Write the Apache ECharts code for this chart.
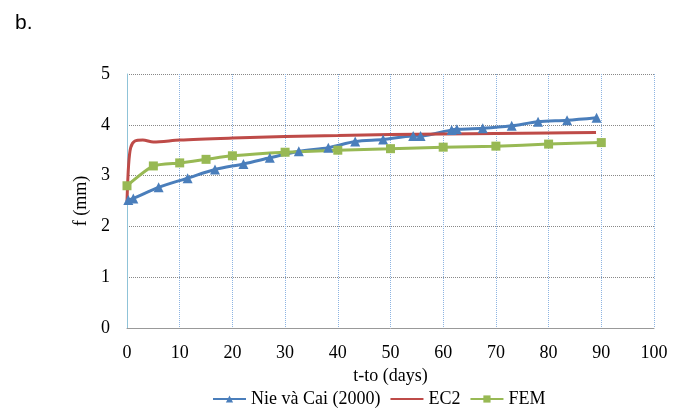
<!DOCTYPE html>
<html>
<head>
<meta charset="utf-8">
<script src="https://cdn.jsdelivr.net/npm/echarts@6/dist/echarts.min.js"></script>
<style>
  html, body { margin: 0; padding: 0; background: #fff; }
  #chart1 { width: 678px; height: 408px; }
</style>
</head>
<body>
<div id="chart1"></div>
<script>
// 数据
var nieX = [0.25, 1.2, 6, 11.5, 16.7, 22.1, 27.1, 32.6, 38.2, 43.3, 48.6, 54.3, 55.7, 61.6, 62.6, 67.5, 73, 78, 83.5, 89.1];
var nieY = [2.52, 2.55, 2.77, 2.95, 3.12, 3.23, 3.35, 3.48, 3.55, 3.67, 3.71, 3.78, 3.78, 3.90, 3.91, 3.93, 3.98, 4.06, 4.09, 4.14];

var ec2X = [0, 0.3, 0.7, 1.5, 3, 5, 10, 20, 30, 40, 50, 60, 70, 80, 89];
var ec2Y = [2.5, 3.2, 3.55, 3.68, 3.70, 3.66, 3.70, 3.74, 3.77, 3.79, 3.81, 3.82, 3.83, 3.84, 3.85];

var femX = [0, 5, 10, 15, 20, 30, 40, 50, 60, 70, 80, 90];
var femY = [2.80, 3.19, 3.25, 3.32, 3.39, 3.46, 3.50, 3.53, 3.56, 3.58, 3.62, 3.65];

function pairs(xs, ys) {
    var out = [];
    for (var i = 0; i < xs.length; i++) {
        out.push([xs[i], ys[i]]);
    }
    return out;
}

var mychart = echarts.init(document.getElementById('chart1'));

var serif = 'Liberation Serif';

var option = {
    animation: false,
    title: {
        text: 'b.',
        left: 10,
        top: 8,
        textStyle: { fontFamily: 'Liberation Sans', fontSize: 21, fontWeight: 'normal', color: '#000' }
    },
    legend: {
        top: 385,
        left: 207,
        itemWidth: 33,
        itemHeight: 9,
        itemGap: 9,
        textStyle: { fontFamily: serif, fontSize: 18, color: '#000' },
        data: [
            'Nie và Cai (2000)',
            { name: 'EC2', itemStyle: { opacity: 0 } },
            'FEM'
        ]
    },
    grid: { left: 127, right: 24, top: 74, bottom: 80 },
    xAxis: {
        type: 'value',
        min: 0,
        max: 100,
        interval: 10,
        name: 't-to (days)',
        nameLocation: 'middle',
        nameGap: 33,
        nameTextStyle: { fontFamily: serif, fontSize: 18, color: '#000' },
        axisLine: { show: true, lineStyle: { color: '#999', width: 1 } },
        axisTick: { show: false },
        axisLabel: { fontFamily: serif, fontSize: 18, color: '#000', margin: 16 },
        splitLine: { show: true, lineStyle: { color: '#8DB4E2', type: 'dotted', width: 1 } }
    },
    yAxis: {
        type: 'value',
        min: 0,
        max: 5,
        interval: 1,
        name: 'f (mm)',
        nameLocation: 'middle',
        nameGap: 36,
        nameTextStyle: { fontFamily: serif, fontSize: 18, color: '#000' },
        axisLine: { show: true, lineStyle: { color: '#8FC3D8', width: 1 } },
        axisTick: { show: false },
        axisLabel: { fontFamily: serif, fontSize: 18, color: '#000', margin: 17 },
        splitLine: { show: true, lineStyle: { color: '#888', type: 'dotted', width: 1 } }
    },
    series: [{
        name: 'Nie và Cai (2000)',
        type: 'line',
        smooth: 0.3,
        symbol: 'triangle',
        symbolSize: 10,
        color: '#4A7EBB',
        lineStyle: { width: 3 },
        data: pairs(nieX, nieY)
    }, {
        name: 'EC2',
        type: 'line',
        smooth: 0.3,
        symbol: 'none',
        color: '#BE4B48',
        lineStyle: { width: 3 },
        data: pairs(ec2X, ec2Y)
    }, {
        name: 'FEM',
        type: 'line',
        smooth: 0.2,
        symbol: 'rect',
        symbolSize: 9,
        color: '#98B954',
        lineStyle: { width: 3 },
        z: 3,
        data: pairs(femX, femY)
    }]
};

mychart.setOption(option);
</script>
</body>
</html>
